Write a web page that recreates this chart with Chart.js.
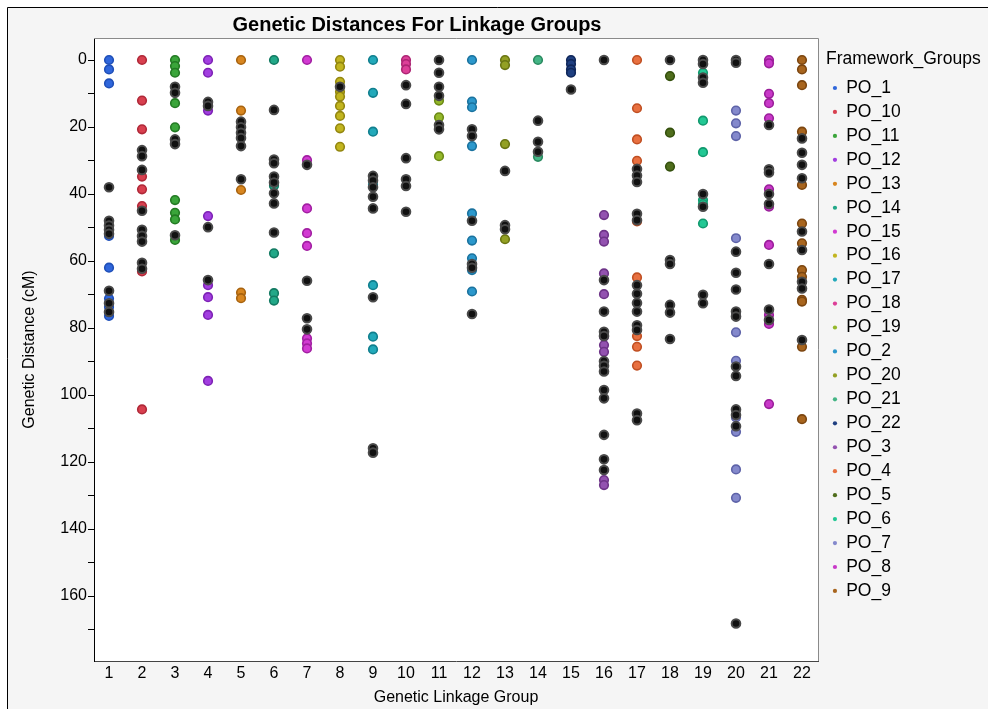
<!DOCTYPE html>
<html>
<head>
<meta charset="utf-8">
<title>Genetic Distances For Linkage Groups</title>
<script src="https://cdn.jsdelivr.net/npm/chart.js@4.4.1/dist/chart.umd.min.js"></script>
<style>
  html, body { margin: 0; padding: 0; background: #fff; overflow: hidden; }
  canvas { display: block; }
</style>
</head>
<body>
<canvas id="chart" width="988" height="709"></canvas>
<script>
const chartTitle = "Genetic Distances For Linkage Groups";
const legendTitle = "Framework_Groups";

// linkage groups on the x axis
const groups = [1, 2, 3, 4, 5, 6, 7, 8, 9, 10, 11, 12, 13, 14, 15, 16, 17, 18, 19, 20, 21, 22];

// framework group names, in legend order (group n uses poLabels[n - 1])
const poLabels = ["PO_1", "PO_10", "PO_11", "PO_12", "PO_13", "PO_14", "PO_15", "PO_16",
  "PO_17", "PO_18", "PO_19", "PO_2", "PO_20", "PO_21", "PO_22", "PO_3", "PO_4", "PO_5",
  "PO_6", "PO_7", "PO_8", "PO_9"];

// framework marker positions (cM), one list per linkage group
const frameworkCM = [
  [0, 2.8, 7, 52.5, 62, 71.2, 73.7, 76.4],                         // 1
  [0, 12.1, 20.7, 34.8, 38.6, 43.6, 63.1, 104.3],                  // 2
  [0, 1.8, 3.8, 12.9, 20.1, 41.8, 45.6, 47.6, 53.7],               // 3
  [0, 3.8, 15.1, 46.6, 67.2, 70.8, 76.1, 95.8],                    // 4
  [0, 15.1, 38.8, 69.4, 71.1],                                     // 5
  [0, 37.5, 57.7, 69.6, 71.8],                                     // 6
  [0, 29.9, 44.3, 51.7, 55.5, 83.1, 84.6, 86.1],                   // 7
  [0, 2.0, 6.5, 9.5, 10.9, 13.7, 16.7, 20.4, 25.9],                // 8
  [0, 9.8, 21.4, 37.2, 67.2, 82.6, 86.4],                          // 9
  [0, 1.2, 2.8],                                                   // 10
  [12.1, 17.1, 28.7],                                              // 11
  [0, 12.4, 14.1, 25.7, 45.8, 53.9, 59.2, 62.7, 69.1],             // 12
  [0, 1.5, 25.1, 53.5],                                            // 13
  [0, 28.9],                                                       // 14
  [0, 1.2, 2.8, 3.8],                                              // 15
  [46.3, 52.2, 54.2, 63.7, 69.9, 82.6, 85.1, 87.1, 125.4, 126.9],  // 16
  [0, 14.4, 23.7, 30.1, 48.2, 64.9, 82.4, 85.6, 91.2],             // 17
  [4.8, 21.7, 31.8],                                               // 18
  [3.8, 18.1, 27.5, 41.8, 43.0, 48.8],                             // 19
  [15.1, 18.9, 22.7, 53.2, 76.4, 81.3, 89.8, 106.7, 111.0, 122.2, 130.7], // 20
  [0, 1, 10.1, 12.9, 17.4, 38.6, 43.8, 55.2, 76.1, 78.8, 102.7],   // 21
  [0, 2.8, 7.5, 21.4, 37.3, 48.8, 54.7, 62.7, 64.7, 71.6, 72.1, 85.6, 107.2] // 22
];

// other (non-framework) marker positions (cM), drawn in black
const otherCM = [
  [38, 48, 49.4, 50.7, 51.9, 68.9, 72.6, 75.2],                    // 1
  [26.9, 28.7, 32.8, 45.0, 50.7, 52.5, 54.2, 60.5, 62.3],          // 2
  [8.0, 9.8, 23.7, 25.1, 52.3],                                    // 3
  [12.5, 13.7, 49.9, 65.7],                                        // 4
  [18.4, 20.1, 21.7, 23.3, 25.7, 35.6],                            // 5
  [14.9, 29.7, 30.8, 34.8, 36.6, 39.8, 42.8, 51.5],                // 6
  [31.3, 65.9, 77.1, 80.4],                                        // 7
  [8.0],                                                           // 8
  [34.6, 36.0, 38.0, 40.8, 44.3, 70.8, 115.9, 117.2],              // 9
  [7.5, 13.1, 29.3, 35.6, 37.6, 45.3],                             // 10
  [0, 3.8, 8.0, 10.7, 19.4, 20.7],                                 // 11
  [20.7, 22.7, 48.0, 60.9, 62.0, 75.8],                            // 12
  [33.1, 49.3, 50.5],                                              // 13
  [18.1, 24.4, 27.4],                                              // 14
  [8.8],                                                           // 15
  [0, 65.7, 75.1, 81.1, 82.4, 89.9, 91.3, 93.0, 98.5, 101.0, 111.9, 119.2, 122.4], // 16
  [32.5, 34.5, 36.4, 45.9, 47.8, 67.2, 69.8, 72.5, 75.1, 79.2, 80.6, 105.5, 107.5], // 17
  [0, 59.7, 60.9, 73.1, 75.4, 83.3],                               // 18
  [0, 1.2, 5.2, 6.8, 40.0, 43.8, 70.1, 72.6],                      // 19
  [0, 0.8, 57.2, 63.5, 68.5, 75.1, 76.6, 91.5, 94.3, 104.3, 106.0, 109.3, 168.2], // 20
  [19.4, 32.6, 33.6, 40.0, 43.0, 60.9, 74.5, 77.6],                // 21
  [23.4, 27.7, 31.3, 35.3, 51.2, 56.7, 66.2, 68.2, 83.6]           // 22
];

const poFill = ["#2f66db", "#d8404f", "#3aa53a", "#a23ee0", "#d8861f", "#22a888", "#d23ad2",
  "#c2b51f", "#22a9ba", "#dd3f98", "#94b82a", "#2c98cc", "#93a023", "#44b585", "#1f3f80",
  "#9352b0", "#e87040", "#4f6d1c", "#22c894", "#8489cc", "#c838c8", "#a8651e"];
const poEdge = ["#1f4fb8", "#b02838", "#237a23", "#7d22b5", "#a8630f", "#137a62", "#a21fa2",
  "#938710", "#107f8e", "#ad2574", "#6c8a15", "#1a729e", "#6a7512", "#2a8a60", "#10275a",
  "#6e3488", "#c04f22", "#34500d", "#12996e", "#5e63a8", "#9a1e9a", "#7c4610"];

const fontFamily = "'Liberation Sans', Arial, sans-serif";
Chart.defaults.font.family = fontFamily;
Chart.defaults.color = "#000";

function toPoints(list, group) {
  return list.map(cm => ({ x: group, y: cm }));
}

const datasets = [
  {
    label: "Other",
    data: otherCM.flatMap((list, i) => toPoints(list, groups[i])),
    backgroundColor: "#111",
    borderColor: "#4a4a4a",
    borderWidth: 2,
    pointRadius: 4.3
  }
];
poLabels.forEach((label, i) => {
  datasets.push({
    label,
    data: toPoints(frameworkCM[i], groups[i]),
    backgroundColor: poFill[i],
    borderColor: poEdge[i],
    borderWidth: 1.6,
    pointRadius: 4.3
  });
});

const framePlugin = {
  id: "frame",
  beforeDraw(chart) {
    const { ctx, chartArea: a, width, height } = chart;
    ctx.save();
    ctx.fillStyle = "#fff";
    ctx.fillRect(0, 0, width, height);
    ctx.fillStyle = "#f5f5f5";
    ctx.fillRect(8, 8, width, height);
    ctx.strokeStyle = "#000";
    ctx.lineWidth = 1;
    ctx.beginPath();
    ctx.moveTo(7.5, height);
    ctx.lineTo(7.5, 7.5);
    ctx.lineTo(width, 7.5);
    ctx.stroke();
    ctx.fillStyle = "#fff";
    ctx.fillRect(a.left, a.top, a.right - a.left, a.bottom - a.top);
    ctx.restore();
  },
  afterDraw(chart) {
    const { ctx, chartArea: a } = chart;
    ctx.save();
    ctx.strokeStyle = "#8a8a8a";
    ctx.lineWidth = 1;
    ctx.beginPath();
    ctx.moveTo(a.left, a.top + 0.5);
    ctx.lineTo(a.right + 0.5, a.top + 0.5);
    ctx.lineTo(a.right + 0.5, a.bottom);
    ctx.stroke();
    ctx.fillStyle = "#000";
    ctx.font = "bold 20px " + fontFamily;
    ctx.textAlign = "center";
    ctx.textBaseline = "alphabetic";
    ctx.fillText(chartTitle, 417, 30.5);
    // legend heading, drawn here so the legend box does not clip it
    ctx.font = "17.5px " + fontFamily;
    ctx.textAlign = "left";
    ctx.textBaseline = "middle";
    ctx.fillText(legendTitle, chart.legend.left, 59);
    ctx.restore();
  }
};

new Chart(document.getElementById("chart"), {
  type: "scatter",
  data: { datasets },
  plugins: [framePlugin],
  options: {
    responsive: false,
    devicePixelRatio: 1,
    animation: false,
    layout: { padding: { left: 0, top: 38, right: 78, bottom: 0 } },
    plugins: {
      tooltip: { enabled: false },
      title: { display: false },
      legend: {
        position: "right",
        align: "start",
        maxWidth: 84,
        title: {
          // keeps room for the heading drawn by framePlugin
          display: true,
          text: "",
          position: "start",
          font: { size: 17.5 },
          padding: { top: 12.25, bottom: 1.55 }
        },
        labels: {
          usePointStyle: true,
          boxWidth: 5,
          boxHeight: 3,
          padding: 6.45,
          color: "#000",
          font: { size: 17.5 },
          generateLabels(chart) {
            return Chart.defaults.plugins.legend.labels.generateLabels(chart)
              .filter(item => item.datasetIndex > 0)
              .map(item => ({ ...item, lineWidth: 0 }));
          }
        }
      }
    },
    scales: {
      x: {
        type: "linear",
        min: 0.545,
        max: 22.485,
        afterFit(scale) { scale.height = 48; },
        border: { color: "#444", width: 1 },
        grid: { display: false, drawTicks: false },
        ticks: {
          stepSize: 1,
          includeBounds: false,
          autoSkip: false,
          maxRotation: 0,
          padding: 3,
          color: "#000",
          font: { size: 16 },
          callback: v => (groups.includes(v) ? String(v) : "")
        },
        title: {
          display: true,
          text: "Genetic Linkage Group",
          color: "#000",
          font: { size: 16 },
          padding: { top: 0, bottom: 1.4 }
        }
      },
      y: {
        reverse: true,
        min: -6.57,
        max: 179.4,
        afterFit(scale) { scale.width = 94; },
        border: { color: "#000", width: 1 },
        grid: { drawOnChartArea: false, tickLength: 6, color: "#000" },
        ticks: {
          stepSize: 10,
          includeBounds: false,
          autoSkip: false,
          padding: 1,
          color: "#000",
          font: { size: 16 },
          callback: v => (v % 20 === 0 ? String(v) : "")
        },
        title: {
          display: true,
          text: "Genetic Distance (cM)",
          color: "#000",
          font: { size: 16 },
          padding: { top: 20.4, bottom: 0 }
        }
      },
      gap: {
        axis: "y",
        position: "right",
        afterFit(scale) { scale.width = 8; },
        border: { display: false },
        grid: { display: false, drawTicks: false },
        ticks: { display: false }
      }
    }
  }
});
</script>
</body>
</html>
